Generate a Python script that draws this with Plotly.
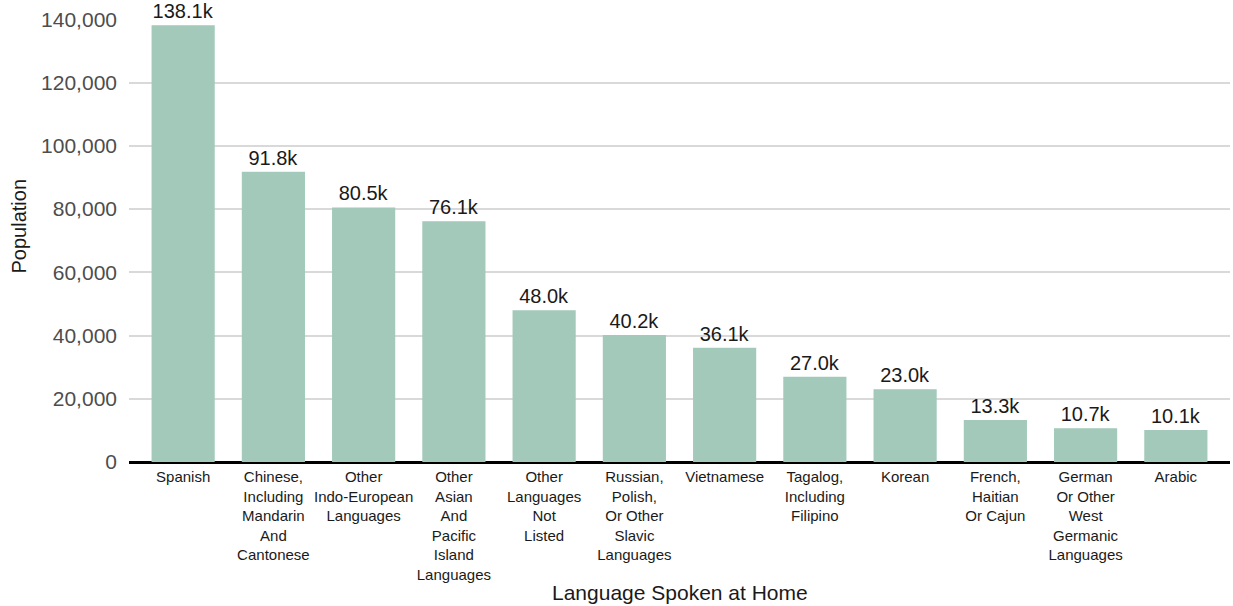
import plotly.graph_objects as go

categories = [
    "Spanish",
    "Chinese,<br>Including<br>Mandarin<br>And<br>Cantonese",
    "Other<br>Indo-European<br>Languages",
    "Other<br>Asian<br>And<br>Pacific<br>Island<br>Languages",
    "Other<br>Languages<br>Not<br>Listed",
    "Russian,<br>Polish,<br>Or Other<br>Slavic<br>Languages",
    "Vietnamese",
    "Tagalog,<br>Including<br>Filipino",
    "Korean",
    "French,<br>Haitian<br>Or Cajun",
    "German<br>Or Other<br>West<br>Germanic<br>Languages",
    "Arabic",
]
population = [138100, 91800, 80500, 76100, 48000, 40200, 36100, 27000, 23000, 13300, 10700, 10100]
labels = [f"{v/1000:.1f}k" for v in population]
y_ticks = [0, 20000, 40000, 60000, 80000, 100000, 120000, 140000]

FONT = "Liberation Sans, Arial, sans-serif"

fig = go.Figure(
    go.Bar(
        x=list(range(len(categories))),
        y=population,
        text=labels,
        textposition="outside",
        textfont=dict(family=FONT, size=20, color="#1a1a1a"),
        marker=dict(color="#a2c9ba", line=dict(width=0)),
        cliponaxis=False,
    )
)

fig.update_layout(
    width=1233,
    height=606,
    margin=dict(l=129, r=3, t=19, b=144, autoexpand=False),
    plot_bgcolor="white",
    paper_bgcolor="white",
    bargap=0.3,
    showlegend=False,
    font=dict(family=FONT),
    annotations=[
        dict(text="Language Spoken at Home", xref="paper", yref="paper",
             x=0.5, y=-0.2957, xanchor="center", yanchor="middle", showarrow=False,
             font=dict(family=FONT, size=21, color="#1a1a1a")),
        dict(text="Population", xref="paper", yref="paper",
             x=-0.1008, y=0.5316, xanchor="center", yanchor="middle", showarrow=False,
             textangle=-90, font=dict(family=FONT, size=20, color="#1a1a1a")),
    ],
)

fig.update_xaxes(
    tickmode="array",
    tickvals=list(range(len(categories))),
    ticktext=categories,
    range=[-0.6, 11.6],
    tickfont=dict(family=FONT, size=15, color="#1a1a1a"),
    showgrid=False,
    ticks="",
    ticklabelstandoff=4,
    automargin=False,
)

fig.update_yaxes(
    range=[0, 140100],
    tickvals=y_ticks,
    tickformat=",d",
    tickfont=dict(family=FONT, size=21, color="#4d4d4d"),
    showgrid=True,
    gridcolor="#d9d9d9",
    gridwidth=2,
    zeroline=True,
    zerolinecolor="black",
    zerolinewidth=3,
    ticks="",
    ticklabelstandoff=11,
    ticklabeloverflow="allow",
    automargin=False,
)

fig.write_html(
    "out.html",
    config={"displayModeBar": False},
    post_script="document.body.style.margin='0';document.body.style.overflow='hidden';",
)
